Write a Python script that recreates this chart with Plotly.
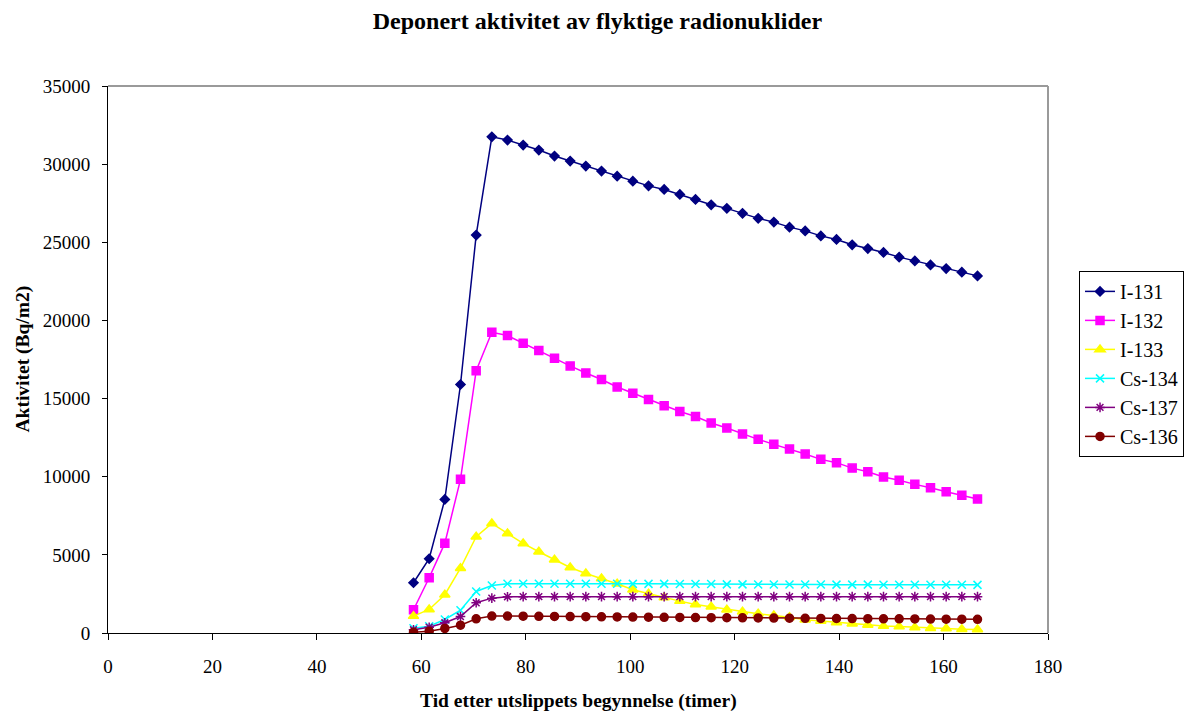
import plotly.graph_objects as go

# Time after release start (hours)
hours = [58.5, 61.5, 64.5, 67.5, 70.5, 73.5, 76.5, 79.5, 82.5, 85.5,
         88.5, 91.5, 94.5, 97.5, 100.5, 103.5, 106.5, 109.5, 112.5, 115.5,
         118.5, 121.5, 124.5, 127.5, 130.5, 133.5, 136.5, 139.5, 142.5, 145.5,
         148.5, 151.5, 154.5, 157.5, 160.5, 163.5, 166.5]

# Deposited activity (Bq/m2)
i131 = [3215, 4750, 8550, 15900, 25460, 31750, 31540, 31220, 30900, 30520,
        30200, 29880, 29560, 29230, 28910, 28610, 28380, 28060, 27740, 27400,
        27170, 26850, 26530, 26290, 25970, 25730, 25410, 25180, 24840, 24600,
        24350, 24050, 23810, 23550, 23320, 23090, 22850]
i132 = [1490, 3535, 5750, 9830, 16780, 19240, 19030, 18540, 18070, 17580,
        17090, 16640, 16220, 15740, 15340, 14940, 14540, 14170, 13850, 13440,
        13120, 12730, 12390, 12070, 11770, 11450, 11110, 10900, 10550, 10320,
        9980, 9770, 9510, 9300, 9040, 8810, 8570]
i133 = [1080, 1505, 2450, 4150, 6160, 7010, 6370, 5730, 5200, 4690,
        4195, 3810, 3490, 3150, 2770, 2520, 2270, 2040, 1825, 1680,
        1490, 1360, 1230, 1120, 1010, 850, 770, 670, 590, 515,
        440, 410, 355, 310, 285, 245, 225]
cs134 = [305, 435, 865, 1460, 2660, 3040, 3150, 3155, 3155, 3155,
         3150, 3150, 3150, 3150, 3145, 3145, 3145, 3140, 3140, 3140,
         3110, 3110, 3105, 3105, 3100, 3100, 3100, 3095, 3095, 3095,
         3090, 3090, 3090, 3085, 3085, 3085, 3080]
cs137 = [205, 370, 655, 1055, 1935, 2230, 2320, 2325, 2325, 2325,
         2325, 2325, 2325, 2325, 2325, 2325, 2325, 2325, 2325, 2325,
         2325, 2325, 2325, 2325, 2325, 2325, 2325, 2325, 2325, 2325,
         2325, 2325, 2325, 2325, 2325, 2325, 2325]
cs136 = [50, 115, 290, 500, 910, 1085, 1082, 1076, 1069, 1062,
         1054, 1046, 1038, 1030, 1022, 1014, 1006, 998, 990, 983,
         976, 969, 962, 955, 948, 941, 934, 928, 922, 916,
         910, 904, 898, 892, 887, 882, 877]

series = [
    ("I-131", i131, "#000080", "diamond", 7),
    ("I-132", i132, "#FF00FF", "square", 8),
    ("I-133", i133, "#FFFF00", "triangle-up", 9),
    ("Cs-134", cs134, "#00FFFF", "x-thin-open", 8),
    ("Cs-137", cs137, "#800080", "asterisk-open", 8),
    ("Cs-136", cs136, "#800000", "circle", 8),
]

FONT = "Liberation Serif, Times New Roman, serif"

fig = go.Figure()
for name, vals, color, symbol, size in series:
    fig.add_trace(go.Scatter(
        x=hours, y=vals, name=name, mode="lines+markers",
        legendgroup=name,
        line=dict(color=color, width=1.5),
        marker=dict(symbol=symbol, size=size, color=color,
                    line=dict(color=color, width=1.5)),
    ))

fig.update_layout(
    width=1190, height=711,
    margin=dict(l=108, r=142, t=86, b=78, pad=0, autoexpand=False),
    paper_bgcolor="white", plot_bgcolor="white",
    font=dict(family=FONT, size=19, color="black"),
    title=dict(text="<b>Deponert aktivitet av flyktige radionuklider</b>",
               font=dict(family=FONT, size=24, color="black"),
               x=0.502, xref="container", xanchor="center",
               y=1 - 21 / 711, yref="container", yanchor="middle"),
    showlegend=True,
    legend=dict(x=1.033, xanchor="left", y=0.662, yanchor="top",
                bordercolor="black", borderwidth=1, bgcolor="white",
                font=dict(family=FONT, size=20, color="black"),
                tracegroupgap=5, traceorder="normal"),
    xaxis=dict(range=[0, 180], dtick=20, tick0=0, showgrid=False,
               zeroline=False, showline=True, linecolor="black", linewidth=1,
               ticks="outside", ticklen=6, tickcolor="black",
               ticklabelstandoff=10, tickformat="d",
               tickfont=dict(family=FONT, size=19, color="black")),
    yaxis=dict(range=[0, 35000], dtick=5000, tick0=0, showgrid=False,
               zeroline=False, showline=True, linecolor="black", linewidth=1,
               ticks="outside", ticklen=5, tickcolor="black",
               ticklabelstandoff=8, tickformat="d",
               tickfont=dict(family=FONT, size=19, color="black")),
    # overlay axes give the cross-style tick marks on the inside
    xaxis2=dict(range=[0, 180], dtick=20, tick0=0, overlaying="x",
                anchor="y", side="bottom", showgrid=False, zeroline=False,
                showline=False, ticks="inside", ticklen=5, tickcolor="black",
                showticklabels=False),
    yaxis2=dict(range=[0, 35000], dtick=5000, tick0=0, overlaying="y",
                anchor="x", side="left", showgrid=False, zeroline=False,
                showline=False, ticks="inside", ticklen=4, tickcolor="black",
                showticklabels=False),
)

# gray frame on the top and right of the plotting area
fig.add_shape(type="line", xref="paper", yref="paper", x0=0, x1=1, y0=1, y1=1,
              line=dict(color="#9a9a9a", width=2), layer="below")
fig.add_shape(type="line", xref="paper", yref="paper", x0=1, x1=1, y0=0, y1=1,
              line=dict(color="#9a9a9a", width=2), layer="below")

# axis titles
fig.add_annotation(text="<b>Tid etter utslippets begynnelse (timer)</b>",
                   xref="paper", yref="paper", x=0.5, y=(632.5 - 700) / 546.5,
                   xanchor="center", yanchor="middle", showarrow=False,
                   font=dict(family=FONT, size=19.5, color="black"))
fig.add_annotation(text="<b>Aktivitet (Bq/m2)</b>",
                   xref="paper", yref="paper", x=(22 - 108) / 940, y=0.5,
                   xanchor="center", yanchor="middle", textangle=-90,
                   showarrow=False,
                   font=dict(family=FONT, size=19.5, color="black"))

fig.write_html("out.html")
